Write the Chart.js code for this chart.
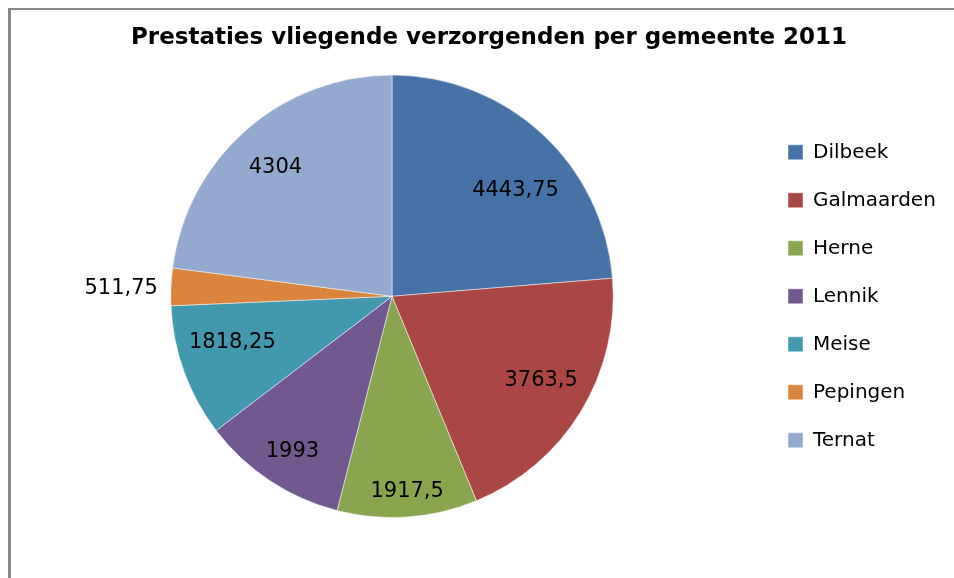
<!DOCTYPE html>
<html>
<head>
<meta charset="utf-8">
<script src="https://cdn.jsdelivr.net/npm/chart.js@4/dist/chart.umd.min.js"></script>
<style>
  html, body { margin: 0; padding: 0; background: #fff; overflow: hidden; }
  canvas { display: block; }
</style>
</head>
<body>
<canvas id="pieChart" width="954" height="578"></canvas>
<script>
const gemeenten = ['Dilbeek', 'Galmaarden', 'Herne', 'Lennik', 'Meise', 'Pepingen', 'Ternat'];
const prestaties = [4443.75, 3763.5, 1917.5, 1993, 1818.25, 511.75, 4304];
const kleuren = ['#4572A7', '#AA4643', '#89A54E', '#71588F', '#4198AF', '#DB843D', '#93A9CF'];

// where each value label sits: fraction of the radius, and a small turn (degrees) off the slice middle
const labelRadius = [0.735, 0.775, 0.887, 0.833, 0.752, 1.225, 0.784];
const labelTurn = [6.8, -1.9, -0.4, -0.8, 3.6, -0.8, -0.9];

const frame = {
    id: 'frame',
    beforeDraw(chart) {
        const c = chart.ctx;
        c.save();
        c.fillStyle = '#878787';
        c.fillRect(8, 8, 3, chart.height);
        c.fillRect(8, 8, chart.width, 2);
        c.restore();
    }
};

const valueLabels = {
    id: 'valueLabels',
    afterDatasetsDraw(chart) {
        const c = chart.ctx;
        const meta = chart.getDatasetMeta(0);
        c.save();
        c.font = '21px "DejaVu Sans"';
        c.fillStyle = '#000';
        c.textAlign = 'center';
        c.textBaseline = 'middle';
        meta.data.forEach((arc, i) => {
            const p = arc.getProps(['x', 'y', 'startAngle', 'endAngle', 'outerRadius'], true);
            const a = (p.startAngle + p.endAngle) / 2 + labelTurn[i] * Math.PI / 180;
            const r = p.outerRadius * labelRadius[i];
            const txt = String(prestaties[i]).replace('.', ',');
            c.fillText(txt, p.x + Math.cos(a) * r, p.y + Math.sin(a) * r);
        });
        c.restore();
    }
};

// fixed legend width so the pie lands where the original has it
const legendWidth = {
    id: 'legendWidth',
    afterInit(chart) {
        const lg = chart.legend;
        const fit = lg.fit;
        lg.fit = function () {
            fit.call(this);
            this.width = 194;
        };
    }
};

const ctxPie = document.getElementById('pieChart').getContext('2d');
const pieChart = new Chart(ctxPie, {
    type: 'pie',
    data: {
        labels: gemeenten,
        datasets: [{
            data: prestaties,
            backgroundColor: kleuren,
            borderColor: 'rgba(255,255,255,0.5)',
            borderWidth: 1
        }]
    },
    options: {
        responsive: false,
        animation: false,
        devicePixelRatio: 1,
        layout: {
            padding: { left: 24, right: 0, top: 10, bottom: 60 }
        },
        plugins: {
            title: {
                display: true,
                text: 'Prestaties vliegende verzorgenden per gemeente 2011',
                color: '#000',
                font: { family: '"DejaVu Sans"', size: 23, weight: 'bold' },
                padding: { top: 14, bottom: 23 }
            },
            legend: {
                position: 'right',
                fullSize: false,
                labels: {
                    color: '#000',
                    font: { family: '"DejaVu Sans"', size: 20 },
                    boxWidth: 15,
                    boxHeight: 15,
                    padding: 28
                }
            },
            tooltip: { enabled: false }
        }
    },
    plugins: [frame, valueLabels, legendWidth]
});
</script>
</body>
</html>
